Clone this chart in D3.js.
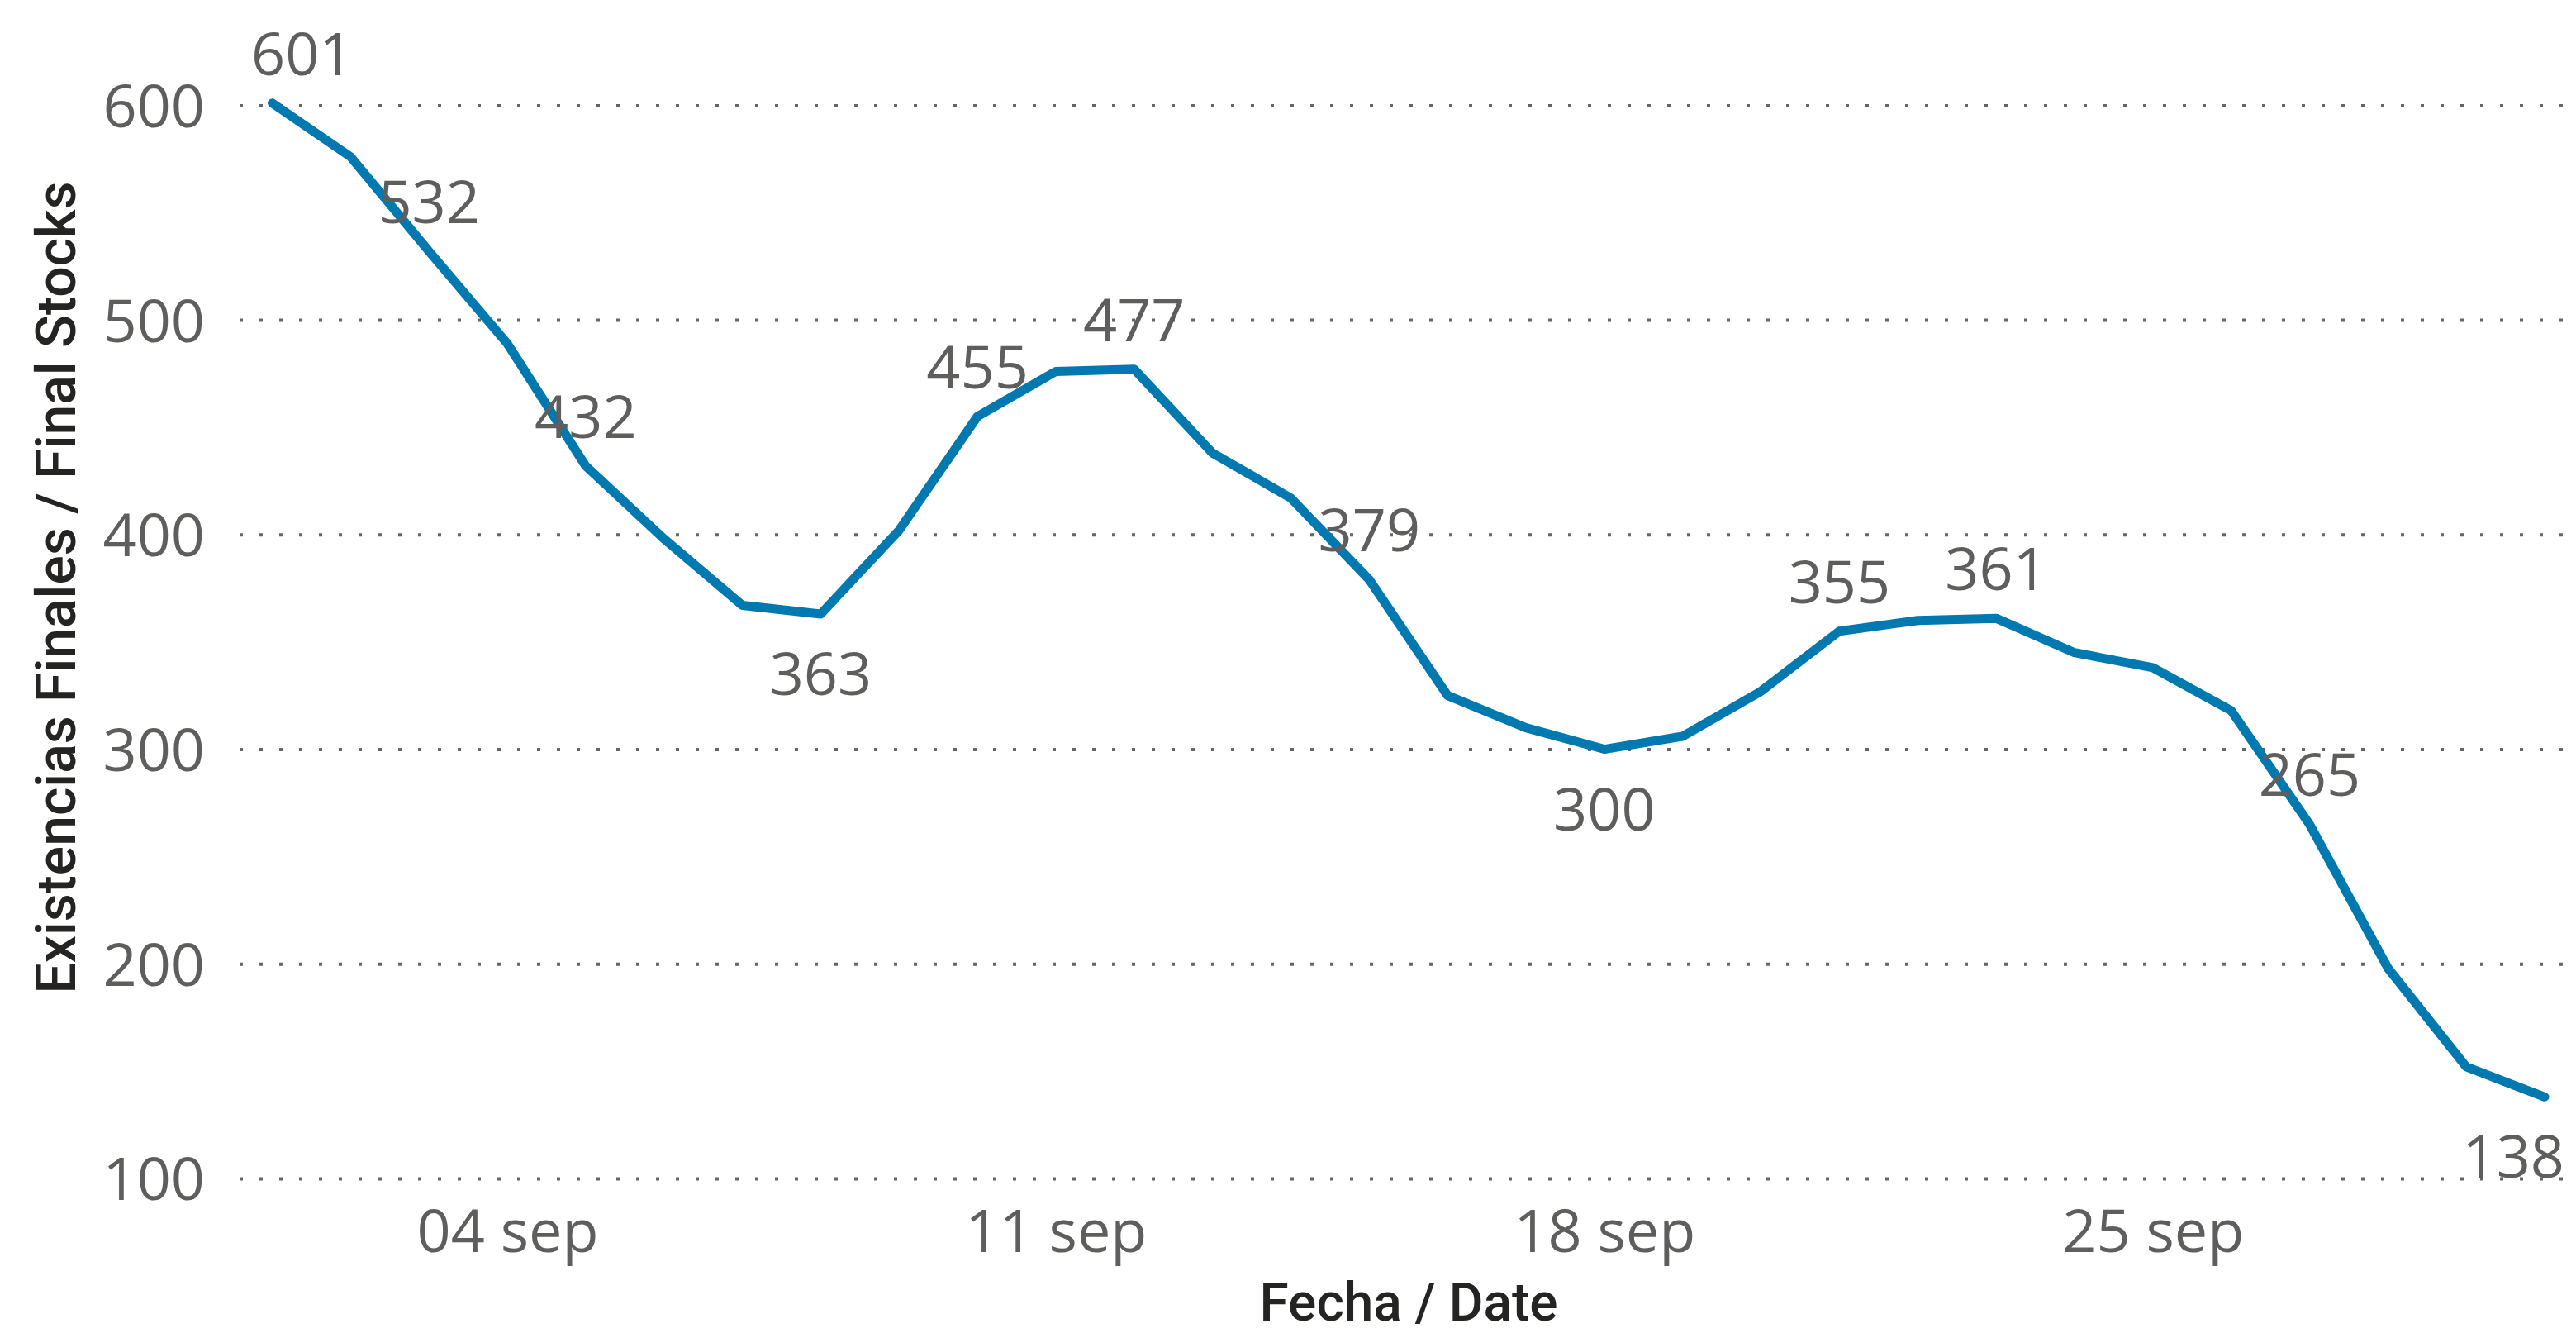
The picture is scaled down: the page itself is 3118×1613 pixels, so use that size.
<!DOCTYPE html>
<html>
<head>
<meta charset="utf-8">
<script src="https://cdn.jsdelivr.net/npm/d3@7"></script>
<style>
  body { margin: 0; background: #fff; }
  svg { display: block; }
</style>
</head>
<body>
<div id="chart"></div>
<script>

/********** data ********************************/
var days = [1, 2, 3, 4, 5, 6, 7, 8, 9, 10, 11, 12, 13, 14, 15, 16, 17, 18, 19, 20, 21, 22, 23, 24, 25, 26, 27, 28, 29, 30];
var stocks = [601, 576, 532, 489, 432, 398, 367, 363, 402, 455, 476, 477, 438, 417, 379, 325, 310, 300, 306, 327, 355, 360, 361, 345, 338, 318, 265, 198, 152, 138];
// which points get a data label, and the ones whose label sits under the line
var labelDays = [1, 3, 5, 8, 10, 12, 15, 18, 21, 23, 27, 30];
var labelBelow = [8, 18, 30];
var yTicks = [100, 200, 300, 400, 500, 600];
var xTickDays = [4, 11, 18, 25];
var yTitle = "Existencias Finales / Final Stocks";
var xTitle = "Fecha / Date";

var width = 3118, height = 1613;
var plotLeft = 290, plotRight = 3110;

var tickFont = "'Segoe UI', 'Open Sans', sans-serif";
var titleFont = "'DIN', 'Roboto', sans-serif";
var grey = "#605E5C";
var dark = "#252423";

function dateOf(d) {
	return new Date(2023, 8, d);
}

var svg = d3.select("#chart")
	.append("svg")
	.attr("width", width)
	.attr("height", height);

// scales
var x = d3.scaleTime()
	.domain([dateOf(1), dateOf(30)])
	.range([329.5, 3080]);

var y = d3.scaleLinear()
	.domain([100, 600])
	.range([1426, 127.4]);

/************************ gridlines + y labels *************************/
var yAxis = d3.axisLeft(y)
	.tickValues(yTicks)
	.tickSize(-(plotRight - plotLeft))
	.tickPadding(42);

var gy = svg.append("g")
	.attr("transform", "translate(" + plotLeft + ",0)")
	.call(yAxis);
gy.select(".domain").remove();
gy.selectAll(".tick line")
	.attr("stroke", "#666666")
	.attr("stroke-width", 4)
	.attr("stroke-dasharray", "4 20");
gy.selectAll(".tick text")
	.attr("fill", grey)
	.attr("font-family", tickFont)
	.attr("font-size", 72)
	.attr("dy", "0.36em");

/************************ x labels *************************/
var xAxis = d3.axisBottom(x)
	.tickValues(xTickDays.map(dateOf))
	.tickSize(0)
	.tickFormat(function (d) { return d3.timeFormat("%d")(d) + " sep"; });

var gx = svg.append("g")
	.attr("transform", "translate(0,1515)")
	.call(xAxis);
gx.select(".domain").remove();
gx.selectAll(".tick text")
	.attr("fill", grey)
	.attr("font-family", tickFont)
	.attr("font-size", 72)
	.attr("y", 0)
	.attr("dy", 0);

/************************ the line *************************/
var line = d3.line()
	.x(function (d, i) { return x(dateOf(days[i])); })
	.y(function (d) { return y(d); });

svg.append("path")
	.datum(stocks)
	.attr("d", line)
	.attr("fill", "none")
	.attr("stroke", "#0078B0")
	.attr("stroke-width", 11)
	.attr("stroke-linejoin", "round")
	.attr("stroke-linecap", "round");

/************************ data labels *************************/
var labels = svg.append("g")
	.attr("font-family", tickFont)
	.attr("font-size", 72)
	.attr("fill", grey)
	.attr("text-anchor", "middle");

labelDays.forEach(function (d) {
	var v = stocks[days.indexOf(d)];
	var px = x(dateOf(d));
	var py = y(v);
	var below = labelBelow.indexOf(d) >= 0;
	var t = labels.append("text")
		.attr("x", px)
		.attr("y", below ? py + 98 : py - 34)
		.text(v);
	// keep the label inside the plot area
	var w = t.node().getComputedTextLength();
	if (px - w / 2 < plotLeft + 14) t.attr("x", plotLeft + 14 + w / 2);
	if (px + w / 2 > plotRight - 6) t.attr("x", plotRight - 6 - w / 2);
});

/************************ axis titles *************************/
svg.append("text")
	.attr("transform", "translate(91,711) rotate(-90)")
	.attr("text-anchor", "middle")
	.attr("font-family", titleFont)
	.attr("font-weight", 500)
	.attr("font-size", 66)
	.attr("fill", dark)
	.text(yTitle);

svg.append("text")
	.attr("x", 1705)
	.attr("y", 1598)
	.attr("text-anchor", "middle")
	.attr("font-family", titleFont)
	.attr("font-weight", 500)
	.attr("font-size", 64)
	.attr("fill", dark)
	.text(xTitle);

</script>
</body>
</html>
